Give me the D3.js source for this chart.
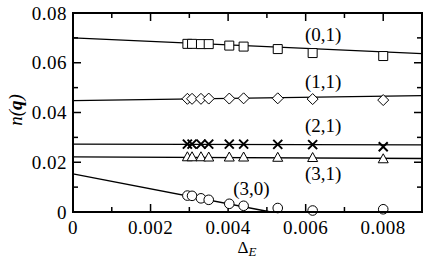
<!DOCTYPE html>
<html>
<head>
<meta charset="utf-8">
<script src="https://cdn.jsdelivr.net/npm/d3@7"></script>
<style>
  body { margin: 0; background: #fff; }
  text { font-family: "Liberation Serif", "Times New Roman", serif; fill: #000; }
</style>
</head>
<body>
<svg id="chart" width="425" height="261"></svg>
<script>

// gap values shared by every series
let delta_e = [0.00295, 0.00307, 0.0033, 0.0035, 0.00403, 0.0044, 0.00528, 0.00618, 0.0080];

let n01 = [0.0676, 0.0676, 0.0675, 0.0675, 0.0669, 0.0665, 0.0655, 0.0639, 0.0627],
    n11 = [0.0455, 0.0455, 0.0455, 0.0456, 0.0456, 0.0457, 0.0457, 0.0454, 0.0450],
    n21 = [0.0273, 0.0273, 0.0273, 0.0273, 0.0273, 0.0273, 0.0272, 0.0271, 0.0262],
    n31 = [0.0222, 0.0222, 0.0222, 0.0221, 0.0221, 0.0221, 0.0220, 0.0219, 0.0214],
    n30 = [0.0066, 0.0065, 0.0055, 0.0049, 0.0033, 0.0025, 0.0016, 0.0006, 0.0011];

// fitted lines: [x0, y0, x1, y1]
let fit01 = [0, 0.0700, 0.009, 0.0637],
    fit11 = [0, 0.0448, 0.009, 0.0468],
    fit21 = [0, 0.0273, 0.009, 0.0270],
    fit31 = [0, 0.0222, 0.009, 0.0215],
    fit30 = [0, 0.0153, 0.0051, 0];

let series_labels = ['(0,1)', '(1,1)', '(2,1)', '(3,1)', '(3,0)'];
let label_pos = [[0.00645, 0.0687], [0.00645, 0.0500], [0.00645, 0.0320], [0.00645, 0.0130], [0.0046, 0.0070]];

let x_ticks = [0, 0.002, 0.004, 0.006, 0.008],
    y_ticks = [0, 0.02, 0.04, 0.06, 0.08];

let svg = d3.select('#chart');

let m_left = 73, m_right = 422, m_top = 13, m_bottom = 212;

let x = d3.scaleLinear().domain([0, 0.009]).range([m_left, m_right]),
    y = d3.scaleLinear().domain([0, 0.08]).range([m_bottom, m_top]);

// tick marks on all four sides, pointing inward
let x_minor = d3.range(0, 0.0091, 0.001),
    y_minor = d3.range(0, 0.081, 0.01);

function tick_len (v, step) {
    return Math.abs(Math.round(v / step) % 2) === 0 ? 8 : 5;
}

let ticks = svg.append('g').attr('stroke', '#000').attr('stroke-width', 1.5);

x_minor.forEach(function (v) {
    let len = tick_len(v, 0.001), px = x(v);
    ticks.append('line').attr('x1', px).attr('x2', px).attr('y1', m_bottom).attr('y2', m_bottom - len);
    ticks.append('line').attr('x1', px).attr('x2', px).attr('y1', m_top).attr('y2', m_top + len);
});

y_minor.forEach(function (v) {
    let len = tick_len(v, 0.01), py = y(v);
    ticks.append('line').attr('x1', m_left).attr('x2', m_left + len).attr('y1', py).attr('y2', py);
    ticks.append('line').attr('x1', m_right).attr('x2', m_right - len).attr('y1', py).attr('y2', py);
});

// tick labels (wide serif, stretched a little to match)
svg.append('g')
    .selectAll('text')
    .data(x_ticks)
    .enter()
    .append('text')
    .attr('x', d => x(d))
    .attr('y', 234)
    .attr('text-anchor', 'middle')
    .style('font-size', '19px')
    .style('letter-spacing', '0.5px')
    .text(d => d === 0 ? '0' : d3.format('.3f')(d));

svg.append('g')
    .selectAll('text')
    .data(y_ticks)
    .enter()
    .append('text')
    .attr('x', 67)
    .attr('y', d => y(d) + 6.5)
    .attr('text-anchor', 'end')
    .style('font-size', '19px')
    .style('letter-spacing', '0.5px')
    .text(d => d === 0 ? '0' : d3.format('.2f')(d));

// axis titles
let xt = svg.append('text')
    .attr('x', 247)
    .attr('y', 253)
    .attr('text-anchor', 'middle')
    .style('font-size', '17px');
xt.append('tspan').text('Δ');
xt.append('tspan').attr('dy', 3).style('font-style', 'italic').style('font-size', '13px').text('E');

let yt = svg.append('text')
    .attr('transform', 'translate(22,110) rotate(-90)')
    .attr('text-anchor', 'middle')
    .style('font-size', '19px')
    .style('font-style', 'italic');
yt.append('tspan').text('n(');
yt.append('tspan').style('font-weight', 'bold').text('q');
yt.append('tspan').text(')');

// fitted lines
let fits = [fit01, fit11, fit21, fit31, fit30];

svg.append('g')
    .selectAll('line')
    .data(fits)
    .enter()
    .append('line')
    .attr('x1', d => x(d[0]))
    .attr('y1', d => y(d[1]))
    .attr('x2', d => x(d[2]))
    .attr('y2', d => y(d[3]))
    .attr('stroke', '#000')
    .attr('stroke-width', 1.3);

// markers
let series = [
    {values: n01, shape: 'square'},
    {values: n11, shape: 'diamond'},
    {values: n21, shape: 'cross'},
    {values: n31, shape: 'triangle'},
    {values: n30, shape: 'circle'}
];

function marker_path (shape) {
    switch (shape) {
        case 'square': return 'M-4.5,-4.5H4.5V4.5H-4.5Z';
        case 'diamond': return 'M0,-5.5L5.5,0L0,5.5L-5.5,0Z';
        case 'triangle': return 'M0,-5L5,4H-5Z';
        case 'circle': return 'M-4.8,0A4.8,4.8 0 1,0 4.8,0A4.8,4.8 0 1,0 -4.8,0Z';
        case 'cross': return 'M-4.5,-4.5L4.5,4.5M-4.5,4.5L4.5,-4.5';
    }
}

series.forEach(function (s) {
    let cross = s.shape === 'cross';
    svg.append('g')
        .selectAll('path')
        .data(s.values)
        .enter()
        .append('path')
        .attr('transform', (d, i) => 'translate(' + x(delta_e[i]) + ',' + y(d) + ')')
        .attr('d', marker_path(s.shape))
        .attr('fill', cross ? 'none' : '#fff')
        .attr('stroke', '#000')
        .attr('stroke-width', cross ? 2 : 1);
});

// series labels
svg.append('g')
    .selectAll('text')
    .data(series_labels)
    .enter()
    .append('text')
    .attr('x', (d, i) => x(label_pos[i][0]))
    .attr('y', (d, i) => y(label_pos[i][1]))
    .attr('text-anchor', 'middle')
    .style('font-size', '19px')
    .text(d => d);

// frame
svg.append('rect')
    .attr('x', m_left)
    .attr('y', m_top)
    .attr('width', m_right - m_left)
    .attr('height', m_bottom - m_top)
    .attr('fill', 'none')
    .attr('stroke', '#000')
    .attr('stroke-width', 2);

</script>
</body>
</html>
